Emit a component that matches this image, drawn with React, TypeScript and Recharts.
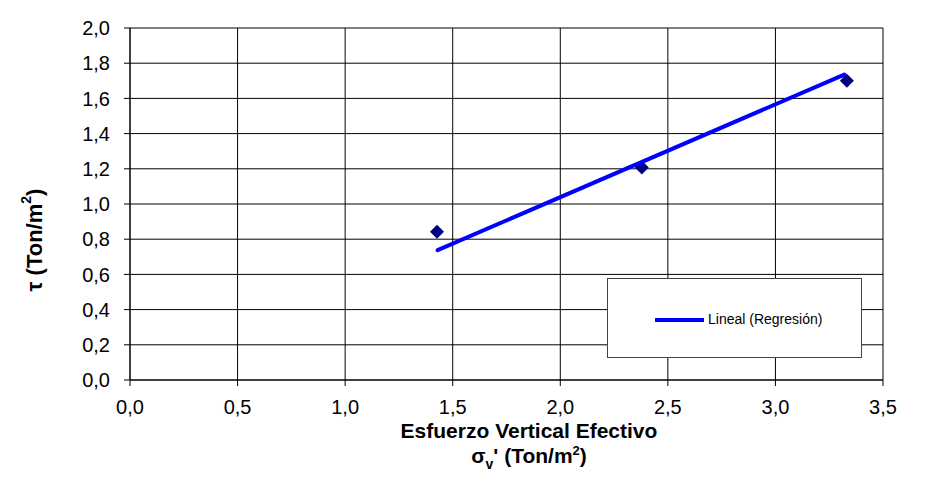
import React from 'react';
import { ComposedChart, Scatter, XAxis, YAxis, CartesianGrid, Legend, Label } from 'recharts';

// ensayos (esfuerzo vertical efectivo vs. resistencia al corte)
const sigmaV = [1.427, 2.379, 3.332];
const tau = [0.842, 1.208, 1.7];

// recta de regresión (extremos)
const regX = [1.43, 3.32];
const regY = [0.738, 1.735];

const xTicks = [0, 0.5, 1, 1.5, 2, 2.5, 3, 3.5];
const yTicks = [0, 0.2, 0.4, 0.6, 0.8, 1, 1.2, 1.4, 1.6, 1.8, 2];

const points = sigmaV.map((x, i) => ({ x, y: tau[i] }));
const regression = regX.map((x, i) => ({ x, y: regY[i] }));

const FONT = '"Liberation Sans", Arial, sans-serif';
const fmt = (v: number) => v.toFixed(1).replace('.', ',');

const DiamondShape = (props: any) => {
  const { cx, cy } = props;
  if (cx == null || cy == null) return <g />;
  const r = 7;
  return (
    <polygon
      points={`${cx},${cy - r} ${cx + r},${cy} ${cx},${cy + r} ${cx - r},${cy}`}
      fill="#000080"
    />
  );
};

const NoShape = () => <g />;

const LegendBox = () => (
  <div
    style={{
      width: 255,
      height: 80,
      border: '1px solid #444',
      background: '#fff',
      boxSizing: 'border-box',
      position: 'relative',
      fontFamily: FONT,
    }}
  >
    <div style={{ position: 'absolute', left: 47, top: 39, width: 49, height: 4, background: '#0000FF' }} />
    <span style={{ position: 'absolute', left: 100, top: 32, fontSize: 14, color: '#000', whiteSpace: 'nowrap' }}>
      Lineal (Regresión)
    </span>
  </div>
);

const XTitle = () => (
  <g fontFamily={FONT} fontWeight="bold" fill="#000">
    <text x={529} y={438} textAnchor="middle" fontSize={21}>
      Esfuerzo Vertical Efectivo
    </text>
    <text x={529} y={463} textAnchor="middle" fontSize={21}>
      <tspan>σ</tspan>
      <tspan dy={6} fontSize={14}>v</tspan>
      <tspan dy={-6}>' (Ton/m</tspan>
      <tspan dy={-8} fontSize={13}>2</tspan>
      <tspan dy={8}>)</tspan>
    </text>
  </g>
);

const YTitle = () => (
  <text
    x={34}
    y={240}
    transform="rotate(-90, 34, 240)"
    textAnchor="middle"
    dominantBaseline="central"
    fontFamily={FONT}
    fontWeight="bold"
    fontSize={22}
    fill="#000"
  >
    <tspan>τ (Ton/m</tspan>
    <tspan dy={-8} fontSize={14}>2</tspan>
    <tspan dy={8}>)</tspan>
  </text>
);

export default function App() {
  return (
    <div style={{ position: 'relative', width: 930, height: 498, margin: -8, background: '#fff' }}>
      <ComposedChart
        width={930}
        height={498}
        margin={{ top: 28, right: 47, left: 70, bottom: 88 }}
      >
        <CartesianGrid stroke="#000" strokeWidth={1} />
        <XAxis
          type="number"
          dataKey="x"
          domain={[0, 3.5]}
          ticks={xTicks}
          tickFormatter={fmt}
          height={30}
          tickSize={6}
          tickMargin={14}
          stroke="#000"
          tick={{ fill: '#000', fontSize: 20, fontFamily: FONT }}
          allowDataOverflow
        >
          <Label content={<XTitle />} />
        </XAxis>
        <YAxis
          type="number"
          dataKey="y"
          domain={[0, 2]}
          ticks={yTicks}
          tickFormatter={fmt}
          width={60}
          tickSize={6}
          tickMargin={14}
          stroke="#000"
          tick={{ fill: '#000', fontSize: 20, fontFamily: FONT }}
          allowDataOverflow
        >
          <Label content={<YTitle />} />
        </YAxis>
        <Scatter
          name="Ensayos"
          data={points}
          shape={<DiamondShape />}
          legendType="none"
          isAnimationActive={false}
        />
        <Scatter
          name="Lineal (Regresión)"
          data={regression}
          shape={<NoShape />}
          line={{ stroke: '#0000FF', strokeWidth: 4, strokeLinecap: 'round' }}
          isAnimationActive={false}
        />
        <Legend
          layout="vertical"
          align="center"
          verticalAlign="middle"
          content={<LegendBox />}
          wrapperStyle={{ left: 607, top: 278, width: 255, height: 80 }}
        />
      </ComposedChart>
      <div
        style={{
          position: 'absolute',
          left: 0,
          top: 0,
          width: 924,
          height: 495,
          borderRight: '2px solid #555',
          borderBottom: '2px solid #555',
          pointerEvents: 'none',
        }}
      />
    </div>
  );
}
